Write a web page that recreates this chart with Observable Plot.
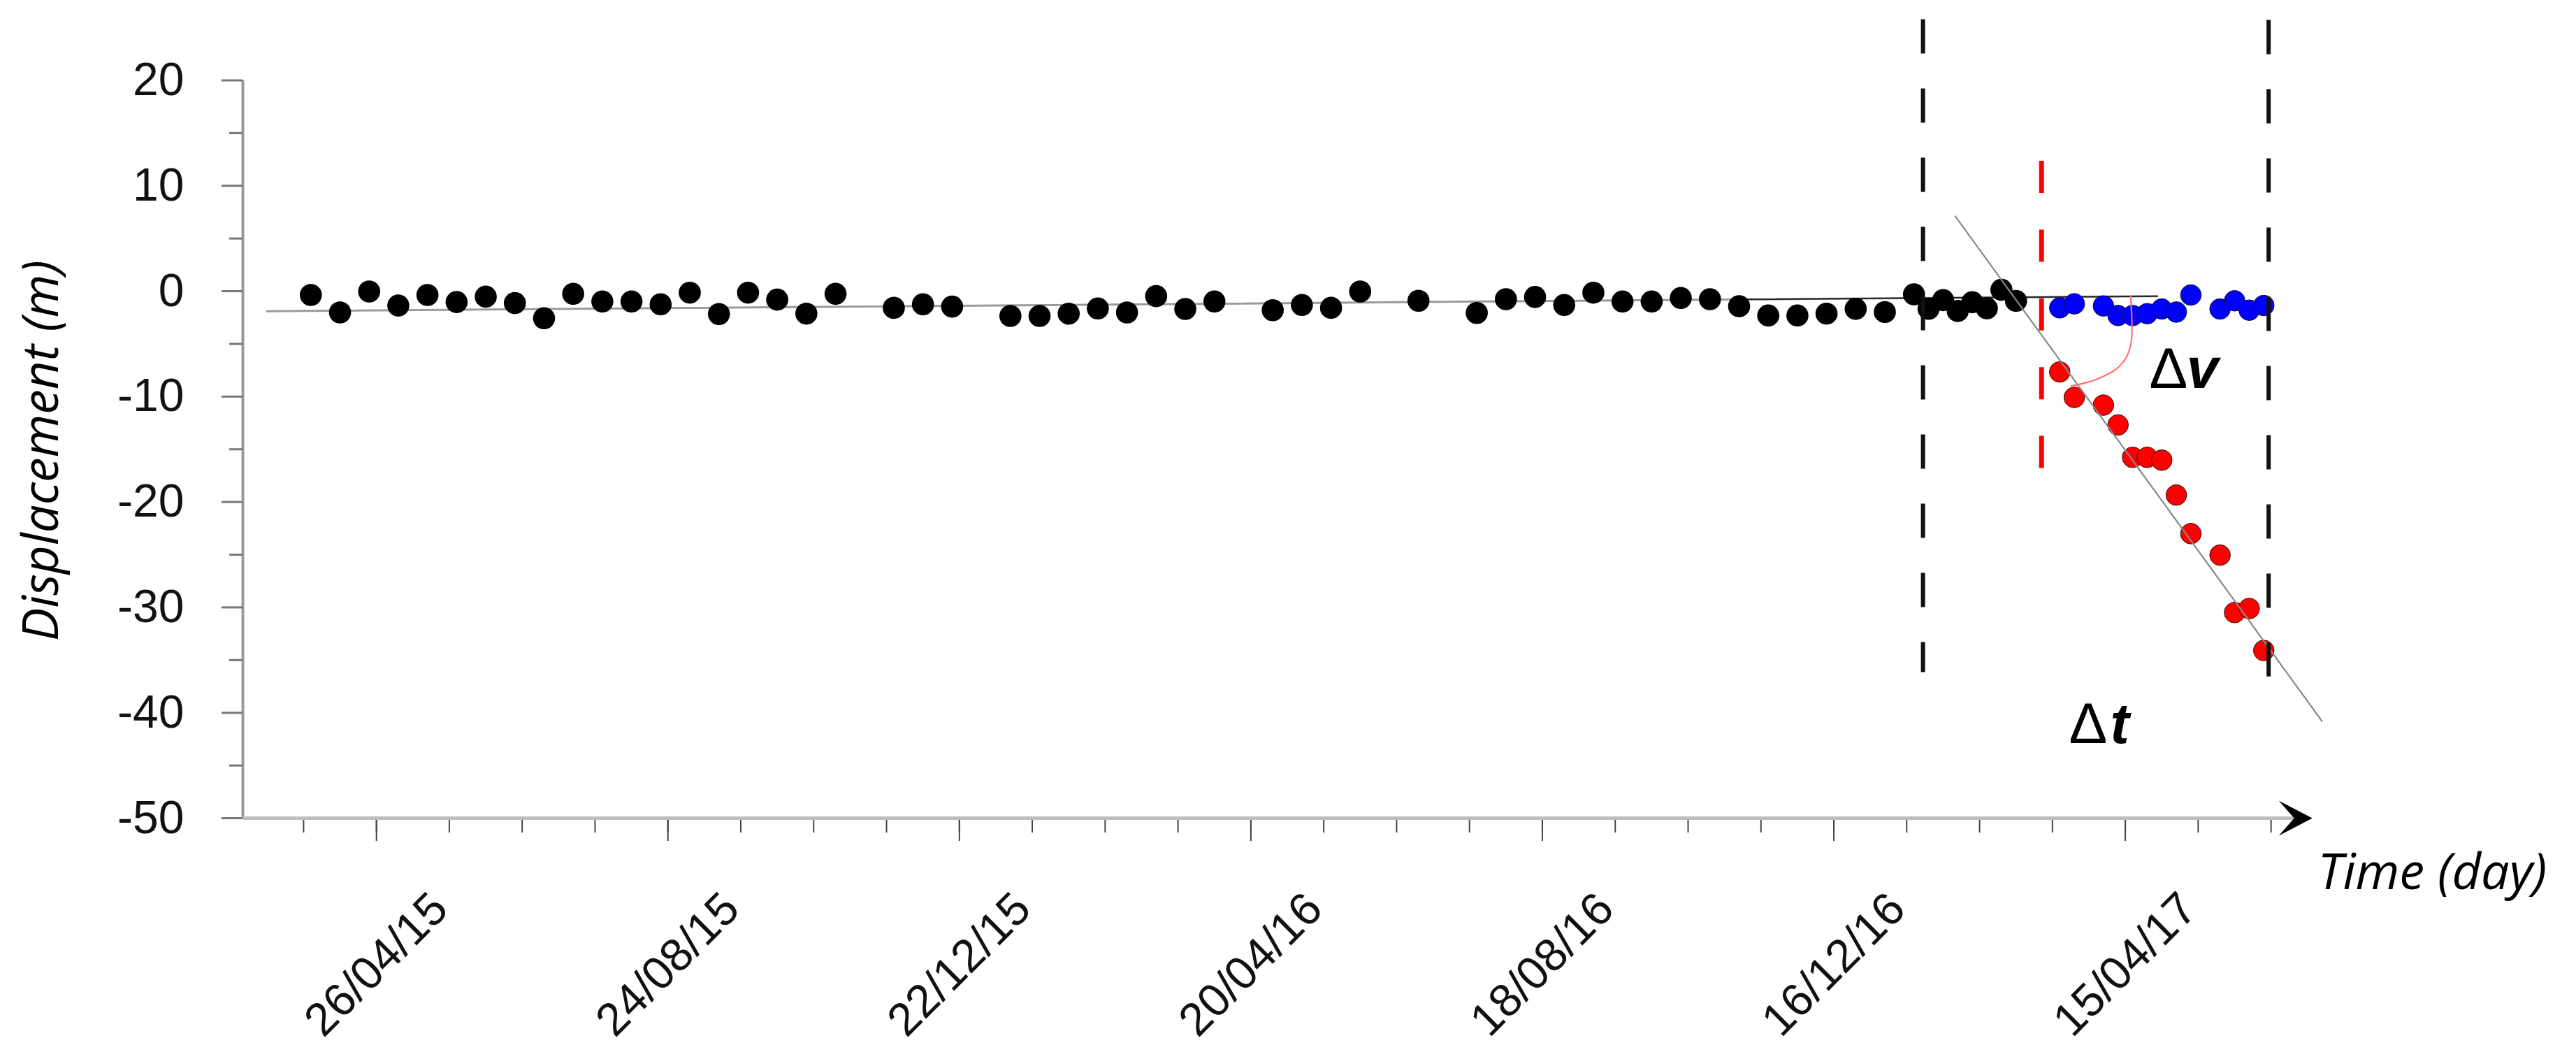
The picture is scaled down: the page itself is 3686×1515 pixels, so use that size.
<!DOCTYPE html>
<html>
<head>
<meta charset="utf-8">
<script src="https://cdn.jsdelivr.net/npm/d3@7"></script>
<script src="https://cdn.jsdelivr.net/npm/@observablehq/plot@0.6"></script>
<style>
  html, body { margin: 0; padding: 0; background: #fff; }
  svg { display: block; }
</style>
</head>
<body>
<div id="chart"></div>
<script>
// ---------- Data ----------
// Stable period (black)
const blackDates = ["2015-03-30","2015-04-11","2015-04-23","2015-05-05","2015-05-17","2015-05-29","2015-06-10","2015-06-22","2015-07-04","2015-07-16",
  "2015-07-28","2015-08-09","2015-08-21","2015-09-02","2015-09-14","2015-09-26","2015-10-08","2015-10-20","2015-11-01","2015-11-25",
  "2015-12-07","2015-12-19","2016-01-12","2016-01-24","2016-02-05","2016-02-17","2016-02-29","2016-03-12","2016-03-24","2016-04-05",
  "2016-04-29","2016-05-11","2016-05-23","2016-06-04","2016-06-28","2016-07-22","2016-08-03","2016-08-15","2016-08-27","2016-09-08",
  "2016-09-20","2016-10-02","2016-10-14","2016-10-26","2016-11-07","2016-11-19","2016-12-01","2016-12-13","2016-12-25","2017-01-06",
  "2017-01-18","2017-01-24","2017-01-30","2017-02-05","2017-02-11","2017-02-17","2017-02-23","2017-03-01"];
const blackValues = [-0.36,-2.02,-0.03,-1.36,-0.36,-1.03,-0.52,-1.13,-2.57,-0.25,
  -0.98,-0.98,-1.25,-0.14,-2.17,-0.14,-0.80,-2.13,-0.25,-1.58,
  -1.25,-1.46,-2.35,-2.35,-2.13,-1.64,-2.02,-0.47,-1.69,-0.98,
  -1.80,-1.31,-1.58,-0.03,-0.91,-2.07,-0.76,-0.55,-1.31,-0.14,
  -0.98,-0.98,-0.65,-0.76,-1.43,-2.31,-2.31,-2.13,-1.68,-1.98,
  -0.30,-1.67,-0.85,-1.88,-1.05,-1.63,0.13,-0.92];

// Final period: blue (stable expectation) and red (accelerating)
const finalDates = ["2017-03-19","2017-03-25","2017-04-06","2017-04-12","2017-04-18","2017-04-24","2017-04-30","2017-05-06","2017-05-12","2017-05-24","2017-05-30","2017-06-05","2017-06-11"];
const blueValues = [-1.58,-1.20,-1.40,-2.31,-2.31,-2.13,-1.69,-1.98,-0.36,-1.69,-0.91,-1.80,-1.36];
const redValues  = [-7.66,-10.08,-10.81,-12.69,-15.76,-15.76,-16.03,-19.34,-23.00,-25.04,-30.49,-30.11,-34.09];

// Trend lines
const trendDates  = ["2015-03-12","2016-11-10T07:00Z","2017-04-28T05:00Z"];
const trendValues = [-1.91,-0.78,-0.47];
const diagDates   = ["2017-02-04","2017-07-05"];
const diagValues  = [7.11,-40.80];

// Angle arc (Δv)
const arcDates  = ["2017-04-17T05:00Z","2017-04-17T17:00Z","2017-04-17T10:00Z","2017-04-15T07:00Z","2017-04-11","2017-04-04T07:00Z","2017-03-28T14:00Z","2017-03-23T19:00Z"];
const arcValues = [-0.47,-3.12,-4.89,-6.33,-7.43,-8.25,-8.76,-8.98];

// Vertical dashed markers
const markerDates   = ["2017-01-21T17:00Z","2017-06-13","2017-03-11T12:00Z"];
const markerTops    = [25.77,25.71,12.34];
const markerBottoms = [-36.18,-36.58,-16.82];

// Axis ticks
const xMajorTicks  = ["2015-04-26","2015-08-24","2015-12-22","2016-04-20","2016-08-18","2016-12-16","2017-04-15"];
const xMajorLabels = ["26/04/15","24/08/15","22/12/15","20/04/16","18/08/16","16/12/16","15/04/17"];
const xMinorTicks  = ["2015-03-27","2015-04-26","2015-05-26","2015-06-25","2015-07-25","2015-08-24","2015-09-23","2015-10-23","2015-11-22","2015-12-22",
  "2016-01-21","2016-02-20","2016-03-21","2016-04-20","2016-05-20","2016-06-19","2016-07-19","2016-08-18","2016-09-17","2016-10-17",
  "2016-11-16","2016-12-16","2017-01-15","2017-02-14","2017-03-16","2017-04-15","2017-05-15","2017-06-14"];
const yMajorTicks = [20,10,0,-10,-20,-30,-40,-50];
const yMinorTicks = [15,5,-5,-15,-25,-35,-45];

// Annotation texts
const annotations = [
  {date: "2017-04-24T22:00Z", value: -9.20, text: "Δ", weight: "normal", style: "normal"},
  {date: "2017-05-10T05:00Z", value: -9.20, text: "v", weight: "bold", style: "italic"},
  {date: "2017-03-22T19:00Z", value: -42.89, text: "Δ", weight: "normal", style: "normal"},
  {date: "2017-04-08T19:00Z", value: -42.89, text: "t", weight: "bold", style: "italic"}
];

const xDomain = ["2015-03-02","2017-06-20"];
const axisLineEnd = "2017-06-24";
const arrowTip = "2017-07-01";

// ---------- Build ----------
const D = s => new Date(s);
const black = blackDates.map((d, i) => ({date: D(d), value: blackValues[i]}));
const blue = finalDates.map((d, i) => ({date: D(d), value: blueValues[i]}));
const red = finalDates.map((d, i) => ({date: D(d), value: redValues[i]}));
const trend = trendDates.map((d, i) => ({date: D(d), value: trendValues[i]}));
const diag = diagDates.map((d, i) => ({date: D(d), value: diagValues[i]}));
const arc = arcDates.map((d, i) => ({date: D(d), value: arcValues[i]}));
const markers = markerDates.map((d, i) => ({date: D(d), top: markerTops[i], bottom: markerBottoms[i]}));
const majors = xMajorTicks.map((d, i) => ({date: D(d), label: xMajorLabels[i]}));
const anns = annotations.map(a => ({...a, date: D(a.date)}));

const stealth = {
  draw(context, size) {
    const s = Math.sqrt(size / Math.PI) / 48;
    context.moveTo(0, 0);
    context.lineTo(-48 * s, -25 * s);
    context.lineTo(-26 * s, 0);
    context.lineTo(-48 * s, 25 * s);
    context.closePath();
  }
};

const sans = "Liberation Sans, Arial, sans-serif";
const human = "Open Sans, Lato, sans-serif";

const chart = Plot.plot({
  width: 3686,
  height: 1515,
  marginLeft: 347,
  marginRight: 416,
  marginTop: 114.5,
  marginBottom: 345,
  style: {background: "#fff", fontFamily: sans, overflow: "visible"},
  x: {type: "utc", domain: xDomain.map(D), axis: null},
  y: {domain: [-50, 20], axis: null},
  marks: [
    // y axis
    Plot.ruleX([D(xDomain[0])], {y1: -50, y2: 20, stroke: "#9a9a9a", strokeWidth: 4}),
    Plot.axisY(yMinorTicks, {anchor: "left", tickSize: 19, fill: "none", stroke: "#777", strokeWidth: 3, label: null}),
    Plot.axisY(yMajorTicks, {anchor: "left", tickSize: 30, tickPadding: 54, tickFormat: d => String(d),
      fontSize: 66, fontFamily: sans, stroke: "#777", strokeWidth: 3, fill: "#111", label: null}),
    // x axis
    Plot.axisX(xMinorTicks.map(D), {anchor: "bottom", tickSize: 21, fill: "none", stroke: "#444", strokeWidth: 2, label: null}),
    Plot.axisX(xMajorTicks.map(D), {anchor: "bottom", tickSize: 33, fill: "none", stroke: "#444", strokeWidth: 2, label: null}),
    Plot.ruleY([-50], {x1: D(xDomain[0]), x2: D(axisLineEnd), stroke: "#bdbdbd", strokeWidth: 5}),
    Plot.dot([D(arrowTip)], {x: d => d, y: () => -50, r: 48, symbol: stealth, fill: "#000", stroke: "none"}),
    Plot.text(majors, {x: "date", text: "label", frameAnchor: "bottom", dy: 209.5, rotate: -45,
      textAnchor: "middle", lineAnchor: "middle", fontSize: 66, fontFamily: sans, fill: "#111"}),
    // axis titles
    Plot.text(["Displacement (m)"], {text: d => d, frameAnchor: "left", dx: -265, dy: 2, rotate: -90,
      textAnchor: "middle", lineAnchor: "bottom", fontSize: 71, fontFamily: human, fontStyle: "italic", fill: "#000"}),
    Plot.text(["Time (day)"], {text: d => d, frameAnchor: "bottom-right", dx: 46, dy: 101.7,
      textAnchor: "start", lineAnchor: "bottom", fontSize: 72, fontFamily: human, fontStyle: "italic", fill: "#000"}),
    // trend lines
    Plot.line(trend, {x: "date", y: "value", stroke: "#9a9a9a", strokeWidth: 3}),
    Plot.line(trend.slice(1), {x: "date", y: "value", stroke: "#222", strokeWidth: 2}),
    // points
    Plot.dot(black, {x: "date", y: "value", r: 15.8, fill: "#000", stroke: "none"}),
    Plot.dot(blue, {x: "date", y: "value", r: 14.8, fill: "#0000ff", stroke: "#101030", strokeWidth: 1}),
    Plot.dot(red, {x: "date", y: "value", r: 14.8, fill: "#ff0000", stroke: "#301010", strokeWidth: 1}),
    // diagonal regression
    Plot.line(diag, {x: "date", y: "value", stroke: "#888", strokeWidth: 2.2}),
    // arc
    Plot.line(arc, {x: "date", y: "value", curve: "catmull-rom", stroke: "#ff7070", strokeWidth: 2.2}),
    // dashed markers
    Plot.ruleX(markers.slice(0, 2), {x: "date", y1: "top", y2: "bottom", stroke: "#111", strokeWidth: 6, strokeDasharray: "49,50"}),
    Plot.ruleX(markers.slice(2), {x: "date", y1: "top", y2: "bottom", stroke: "#ff0000", strokeWidth: 7, strokeDasharray: "46,52.4"}),
    // annotations
    Plot.text(anns.filter(a => a.weight === "normal"), {x: "date", y: "value", text: "text", textAnchor: "start",
      lineAnchor: "bottom", fontSize: 82, fontFamily: sans, fill: "#000"}),
    Plot.text(anns.filter(a => a.weight === "bold"), {x: "date", y: "value", text: "text", textAnchor: "start",
      lineAnchor: "bottom", fontSize: 82, fontFamily: sans, fontWeight: "bold", fontStyle: "italic", fill: "#000"})
  ]
});

document.getElementById("chart").appendChild(chart);
</script>
</body>
</html>
